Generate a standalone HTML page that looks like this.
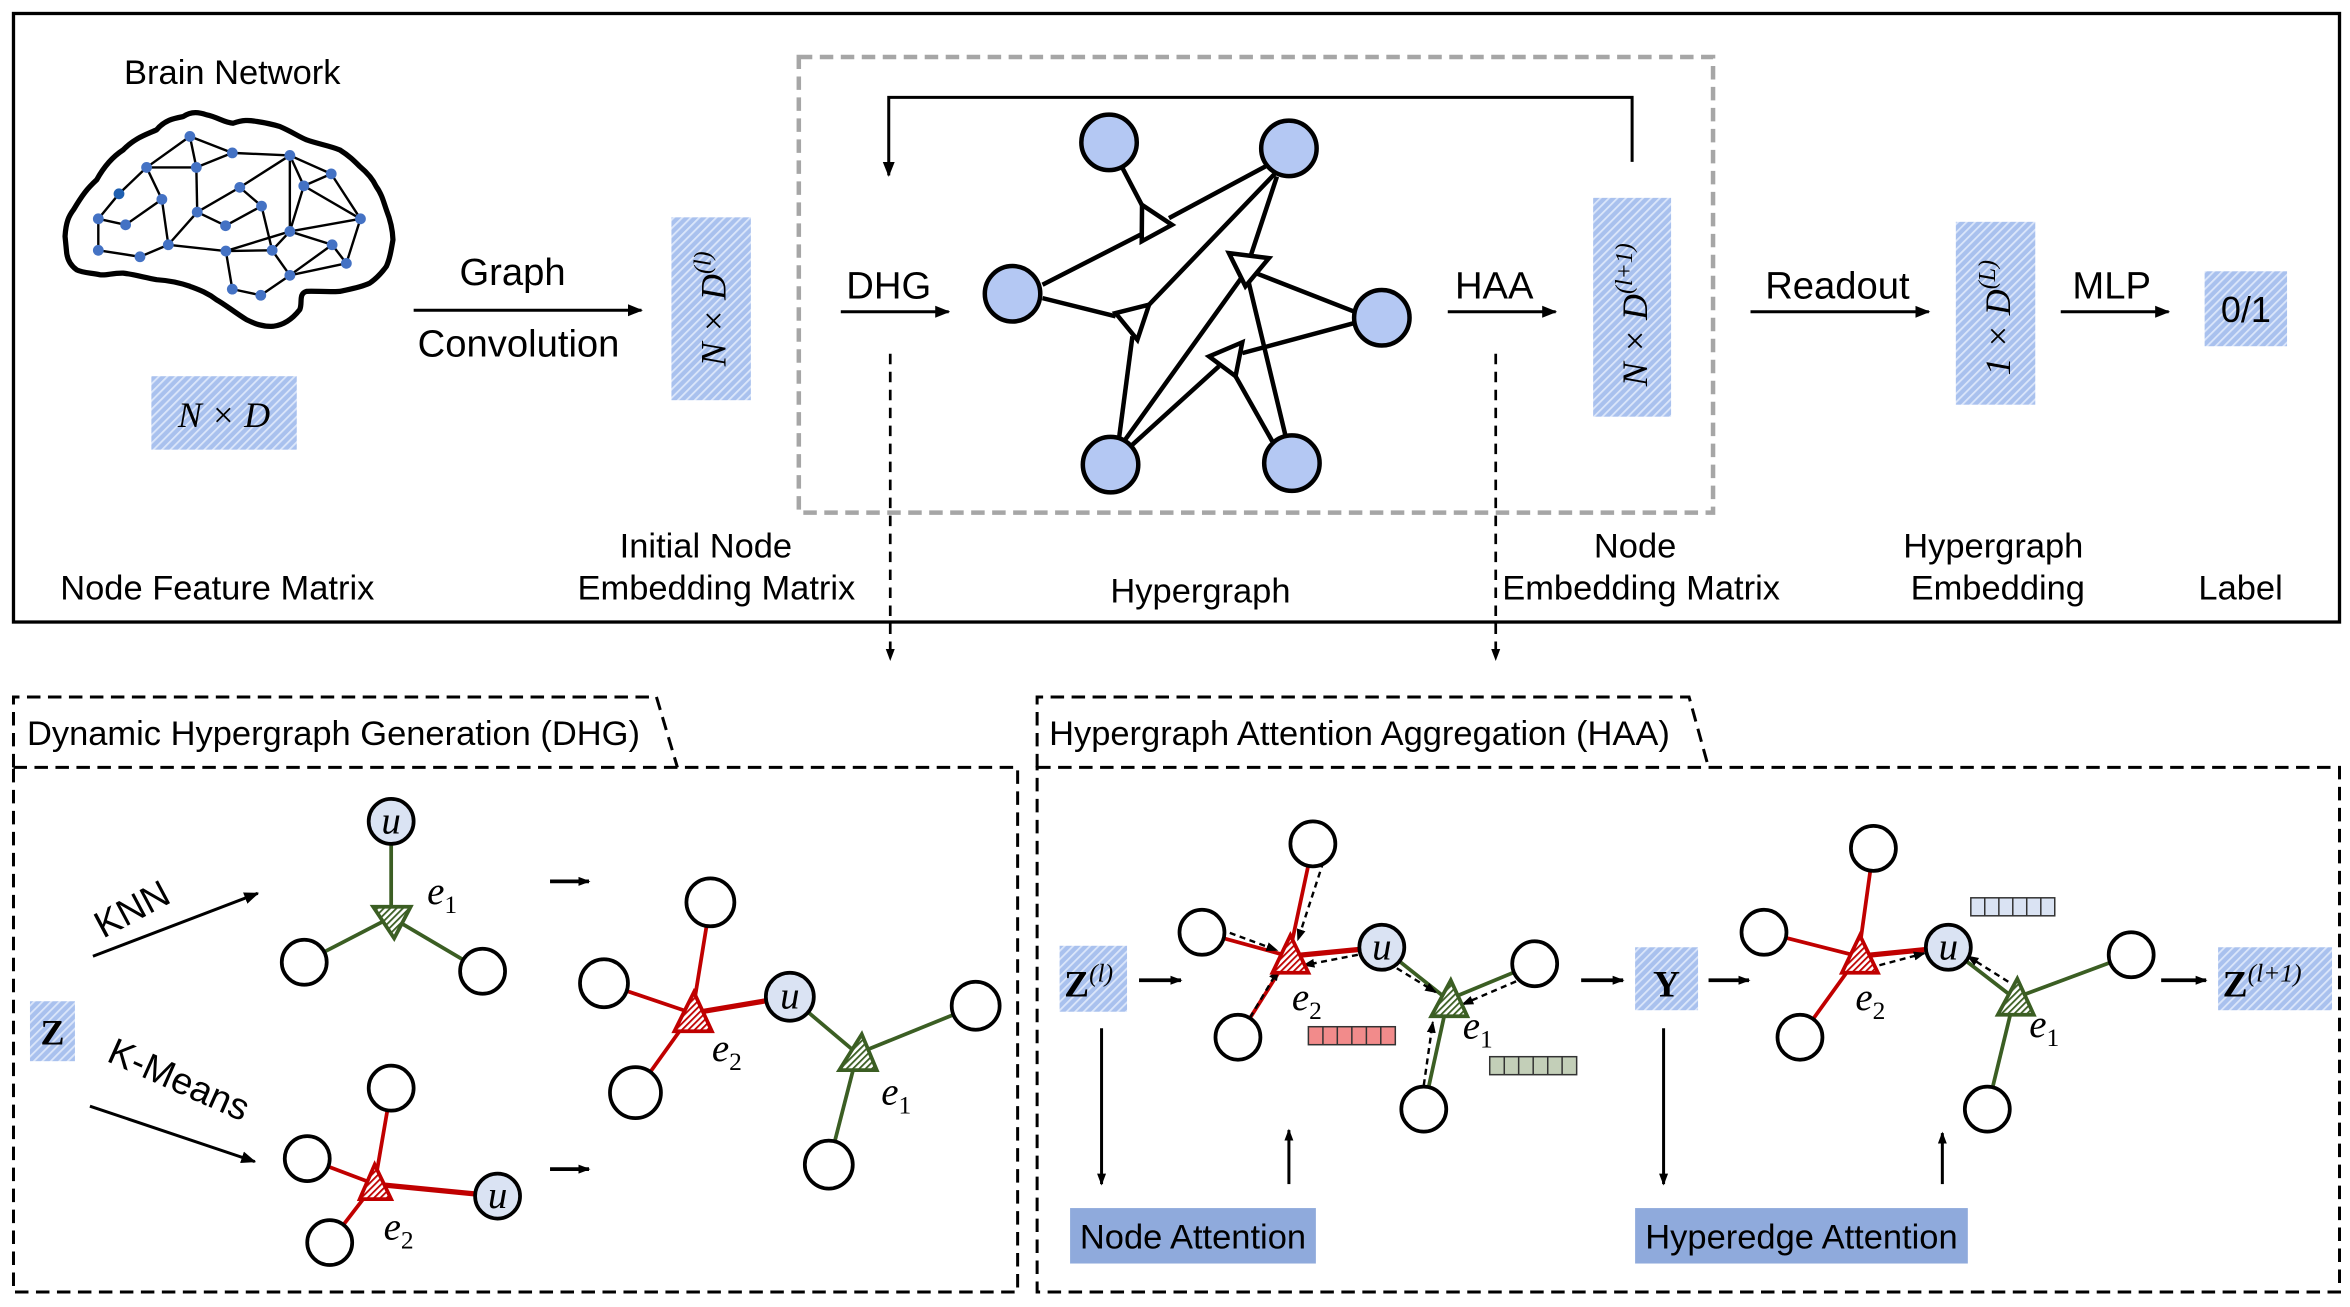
<!DOCTYPE html>
<html><head><meta charset="utf-8"><style>html,body{margin:0;padding:0;background:#fff}svg{display:block}</style></head>
<body>
<svg width="2350" height="1307" viewBox="0 0 1568 872" preserveAspectRatio="none" xmlns="http://www.w3.org/2000/svg" font-family="Liberation Sans, sans-serif">
<defs>
<pattern id="h" width="4" height="4" patternUnits="userSpaceOnUse" patternTransform="rotate(45)">
<rect width="4" height="4" fill="#a9c1ee"/><rect width="1.2" height="4" fill="#dbe6fa"/></pattern>
<pattern id="hr" width="3" height="3" patternUnits="userSpaceOnUse" patternTransform="rotate(45)">
<rect width="3" height="3" fill="#fff"/><rect width="1.2" height="3" fill="#c00000"/></pattern>
<pattern id="hg" width="3" height="3" patternUnits="userSpaceOnUse" patternTransform="rotate(45)">
<rect width="3" height="3" fill="#fff"/><rect width="1.2" height="3" fill="#3b5e23"/></pattern>
<marker id="a" markerWidth="10" markerHeight="10" refX="9" refY="5" orient="auto" markerUnits="userSpaceOnUse"><path d="M0,1 L10,5 L0,9 Z" fill="#000"/></marker>
<marker id="as" markerWidth="8" markerHeight="8" refX="7" refY="4" orient="auto" markerUnits="userSpaceOnUse"><path d="M0,1 L8,4 L0,7 Z" fill="#000"/></marker>
</defs>

<rect x="9" y="9" width="1552" height="406" fill="none" stroke="#000" stroke-width="2.2"/>
<text x="155" y="56" font-size="23" text-anchor="middle">Brain Network</text>

<path d="M43.4,157.7 C44,148 46,144 49,140 C55,130 58,126 64.5,120 C70,110 76,104 82.2,100 C90,92 97,90 104.5,86.6 C110,80 116,79 122.2,77.8 C128,74 133,75 137.8,76.6 C145,78 150,82 155.6,82.2 C162,80 166,80 171,81 C178,82 182,83 186.7,84.4 C195,88 199,91 204.5,93.3 C212,96 219,97 226.7,100 C233,104 236,107 240,111 C246,116 249,120 251,124.4 C255,130 256,135 257.8,140 C261,148 262,154 262.2,160 C261,167 260,173 257.8,177.7 C254,183 251,186 246.7,188.9 C240,192 233,193 226.7,194.4 C218,195 210,194 204.5,194.4 C199,196 202,202 200,206.6 C195,213 189,217 182.2,217.7 C175,218 170,216 164.5,213.3 C156,208 150,203 144.5,200 C138,195 132,193 126.7,191 C118,188 111,187 104.5,186.6 C96,185 89,183 82.2,182.2 C75,182 71,184 66.7,183.3 C60,182 55,182 51.1,180 C47,177 45,173 44.5,168.8 Z" fill="none" stroke="#000" stroke-width="3.5" stroke-linejoin="round"/>
<g stroke="#000" stroke-width="1.6">
<line x1="126.7" y1="91" x2="97.8" y2="111.7"/><line x1="126.7" y1="91" x2="155" y2="102"/><line x1="126.7" y1="91" x2="131" y2="111.7"/>
<line x1="131" y1="111.7" x2="155" y2="102"/><line x1="155" y1="102" x2="193.4" y2="103.7"/><line x1="97.8" y1="111.7" x2="131" y2="111.7"/>
<line x1="97.8" y1="111.7" x2="79.4" y2="129.3"/><line x1="97.8" y1="111.7" x2="108" y2="133"/><line x1="131" y1="111.7" x2="131.6" y2="141.5"/>
<line x1="193.4" y1="103.7" x2="160" y2="125"/><line x1="160" y1="125" x2="131.6" y2="141.5"/><line x1="160" y1="125" x2="174.5" y2="137.5"/>
<line x1="193.4" y1="103.7" x2="221" y2="116"/><line x1="193.4" y1="103.7" x2="202.7" y2="124"/><line x1="193.4" y1="103.7" x2="193.4" y2="154.4"/>
<line x1="202.7" y1="124" x2="221" y2="116"/><line x1="202.7" y1="124" x2="240.5" y2="146"/><line x1="221" y1="116" x2="240.5" y2="146"/>
<line x1="202.7" y1="124" x2="193.4" y2="154.4"/><line x1="79.4" y1="129.3" x2="65.6" y2="146"/><line x1="65.6" y1="146" x2="83.8" y2="150"/>
<line x1="83.8" y1="150" x2="108" y2="133"/><line x1="108" y1="133" x2="112.3" y2="163.3"/><line x1="65.6" y1="146" x2="65.6" y2="167"/>
<line x1="65.6" y1="167" x2="93.4" y2="171.3"/><line x1="93.4" y1="171.3" x2="112.3" y2="163.3"/><line x1="112.3" y1="163.3" x2="131.6" y2="141.5"/>
<line x1="112.3" y1="163.3" x2="150.7" y2="167.5"/><line x1="131.6" y1="141.5" x2="150.5" y2="150.6"/><line x1="150.5" y1="150.6" x2="174.5" y2="137.5"/>
<line x1="174.5" y1="137.5" x2="181.6" y2="167"/><line x1="150.7" y1="167.5" x2="193.4" y2="154.4"/><line x1="150.7" y1="167.5" x2="181.6" y2="167"/>
<line x1="193.4" y1="154.4" x2="181.6" y2="167"/><line x1="193.4" y1="154.4" x2="240.5" y2="146"/><line x1="193.4" y1="154.4" x2="221.6" y2="163.3"/>
<line x1="240.5" y1="146" x2="231.1" y2="175.7"/><line x1="221.6" y1="163.3" x2="231.1" y2="175.7"/><line x1="221.6" y1="163.3" x2="193.4" y2="183.7"/>
<line x1="231.1" y1="175.7" x2="193.4" y2="183.7"/><line x1="181.6" y1="167" x2="193.4" y2="183.7"/><line x1="150.7" y1="167.5" x2="155" y2="192.9"/>
<line x1="155" y1="192.9" x2="174" y2="197"/><line x1="174" y1="197" x2="193.4" y2="183.7"/>
</g>
<g fill="#4472c4">
<circle cx="126.7" cy="91" r="3.6"/><circle cx="155" cy="102" r="3.6"/><circle cx="193.4" cy="103.7" r="3.6"/><circle cx="97.8" cy="111.7" r="3.6"/>
<circle cx="131" cy="111.7" r="3.6"/><circle cx="221" cy="116" r="3.6"/><circle cx="202.7" cy="124" r="3.6"/><circle cx="79.4" cy="129.3" r="3.6" fill="#1f5fb0"/>
<circle cx="160" cy="125" r="3.6"/><circle cx="108" cy="133" r="3.6"/><circle cx="174.5" cy="137.5" r="3.6"/><circle cx="131.6" cy="141.5" r="3.6"/>
<circle cx="65.6" cy="146" r="3.6"/><circle cx="83.8" cy="150" r="3.6"/><circle cx="150.5" cy="150.6" r="3.6"/><circle cx="240.5" cy="146" r="3.6"/>
<circle cx="193.4" cy="154.4" r="3.6"/><circle cx="112.3" cy="163.3" r="3.6"/><circle cx="65.6" cy="167" r="3.6"/><circle cx="93.4" cy="171.3" r="3.6"/>
<circle cx="150.7" cy="167.5" r="3.6"/><circle cx="181.6" cy="167" r="3.6"/><circle cx="221.6" cy="163.3" r="3.6"/><circle cx="231.1" cy="175.7" r="3.6"/>
<circle cx="193.4" cy="183.7" r="3.6"/><circle cx="155" cy="192.9" r="3.6"/><circle cx="174" cy="197" r="3.6"/>
</g>

<rect x="101" y="251" width="97" height="49" fill="url(#h)"/>
<text x="149.5" y="285" font-size="24" text-anchor="middle" font-family="Liberation Serif, serif" font-style="italic">N × D</text>
<text x="145" y="400" font-size="23" text-anchor="middle">Node Feature Matrix</text>

<line x1="276" y1="207" x2="428" y2="207" stroke="#000" stroke-width="2" marker-end="url(#a)"/>
<text x="342" y="190" font-size="25.5" text-anchor="middle">Graph</text>
<text x="346" y="238" font-size="25.5" text-anchor="middle">Convolution</text>

<rect x="448" y="145" width="53" height="122" fill="url(#h)"/>
<text transform="translate(484,206) rotate(-90)" font-size="24" text-anchor="middle" font-family="Liberation Serif, serif" font-style="italic">N × D<tspan font-size="16" dy="-10">(l)</tspan></text>
<text x="471" y="372" font-size="23" text-anchor="middle">Initial Node</text>
<text x="478" y="400" font-size="23" text-anchor="middle">Embedding Matrix</text>

<rect x="533" y="38" width="610" height="304" fill="none" stroke="#a6a6a6" stroke-width="3" stroke-dasharray="9,5"/>
<polyline points="1089,108 1089,65 593,65 593,117" fill="none" stroke="#000" stroke-width="2" marker-end="url(#a)"/>
<text x="593" y="199" font-size="25.5" text-anchor="middle">DHG</text>
<line x1="561" y1="208" x2="633" y2="208" stroke="#000" stroke-width="2" marker-end="url(#a)"/>

<g stroke="#000" stroke-width="3" fill="none">
<line x1="740" y1="95" x2="762" y2="137"/><line x1="695.6" y1="190" x2="763" y2="155.5"/><line x1="780" y1="145.5" x2="844.4" y2="111"/>
<line x1="695.6" y1="198.9" x2="744.4" y2="211"/><line x1="851" y1="115.5" x2="766.7" y2="203.3"/><line x1="746.7" y1="292" x2="755.6" y2="224.4"/>
<line x1="852" y1="117.8" x2="834.4" y2="171"/><line x1="903.3" y1="207.8" x2="837.8" y2="182.2"/><line x1="857.8" y1="291" x2="833.3" y2="188.9"/>
<line x1="751" y1="293" x2="829" y2="184.4"/><line x1="903.3" y1="215.6" x2="828.9" y2="235.6"/><line x1="755.6" y1="296.7" x2="813.3" y2="244.4"/>
<line x1="848.9" y1="294.4" x2="824.4" y2="251"/>
</g>
<g stroke="#000" stroke-width="3" fill="#fff">
<polygon points="762,136.7 782,150 761.8,161"/>
<polygon points="744.4,208.9 766.7,203.3 758.9,226.7"/>
<polygon points="820,168.9 846.7,172.2 831,191"/>
<polygon points="806.7,237.8 828.9,228.4 824.4,251"/>
</g>
<g fill="#b4c8f3" stroke="#000" stroke-width="3">
<circle cx="740" cy="95" r="18.5"/><circle cx="860" cy="99" r="18.5"/><circle cx="675.6" cy="196" r="18.5"/>
<circle cx="922" cy="212" r="18.5"/><circle cx="741" cy="310" r="18.5"/><circle cx="862" cy="309" r="18.5"/>
</g>
<text x="801" y="402" font-size="23" text-anchor="middle">Hypergraph</text>

<text x="997" y="199" font-size="25.5" text-anchor="middle">HAA</text>
<line x1="966" y1="208" x2="1038" y2="208" stroke="#000" stroke-width="2" marker-end="url(#a)"/>
<rect x="1063" y="132" width="52" height="146" fill="url(#h)"/>
<text transform="translate(1099,210) rotate(-90)" font-size="24" text-anchor="middle" font-family="Liberation Serif, serif" font-style="italic">N × D<tspan font-size="16" dy="-10">(l+1)</tspan></text>
<text x="1091" y="372" font-size="23" text-anchor="middle">Node</text>
<text x="1095" y="400" font-size="23" text-anchor="middle">Embedding Matrix</text>

<text x="1226" y="199" font-size="25.5" text-anchor="middle">Readout</text>
<line x1="1168" y1="208" x2="1287" y2="208" stroke="#000" stroke-width="2" marker-end="url(#a)"/>
<rect x="1305" y="148" width="53" height="122" fill="url(#h)"/>
<text transform="translate(1341,212) rotate(-90)" font-size="24" text-anchor="middle" font-family="Liberation Serif, serif" font-style="italic">1 × D<tspan font-size="16" dy="-10">(L)</tspan></text>
<text x="1330" y="372" font-size="23" text-anchor="middle">Hypergraph</text>
<text x="1333" y="400" font-size="23" text-anchor="middle">Embedding</text>

<text x="1409" y="199" font-size="25.5" text-anchor="middle">MLP</text>
<line x1="1375" y1="208" x2="1447" y2="208" stroke="#000" stroke-width="2" marker-end="url(#a)"/>
<rect x="1471" y="181" width="55" height="50" fill="url(#h)"/>
<text x="1498.5" y="215" font-size="24" text-anchor="middle">0/1</text>
<text x="1495" y="400" font-size="23" text-anchor="middle">Label</text>

<line x1="594" y1="236" x2="594" y2="440" stroke="#000" stroke-width="1.8" stroke-dasharray="7,5" marker-end="url(#as)"/>
<line x1="998" y1="236" x2="998" y2="440" stroke="#000" stroke-width="1.8" stroke-dasharray="7,5" marker-end="url(#as)"/>

<g fill="none" stroke="#000" stroke-width="2" stroke-dasharray="9,5">
<path d="M9,512 L9,465 L438,465 L452,512"/>
<rect x="9" y="512" width="670" height="350"/>
<path d="M692,512 L692,465 L1127,465 L1140,512"/>
<rect x="692" y="512" width="869" height="350"/>
</g>
<text x="18" y="497" font-size="23">Dynamic Hypergraph Generation (DHG)</text>
<text x="700" y="497" font-size="23">Hypergraph Attention Aggregation (HAA)</text>

<rect x="20" y="668" width="30" height="40" fill="url(#h)"/>
<text x="35" y="697" font-size="24" text-anchor="middle" font-family="Liberation Serif, serif" font-weight="bold">Z</text>
<text transform="translate(92,614) rotate(-28)" font-size="25" text-anchor="middle">KNN</text>
<line x1="62" y1="638" x2="172" y2="596" stroke="#000" stroke-width="2" marker-end="url(#a)"/>
<text transform="translate(116,728) rotate(24)" font-size="25" text-anchor="middle">K-Means</text>
<line x1="60" y1="738" x2="170" y2="775" stroke="#000" stroke-width="2" marker-end="url(#a)"/>

<g stroke-width="2.5">
<line x1="261" y1="548" x2="261" y2="612" stroke="#3b5e23"/>
<line x1="261" y1="612" x2="203" y2="642" stroke="#3b5e23"/>
<line x1="261" y1="612" x2="322" y2="648" stroke="#3b5e23"/>
<line x1="261" y1="726" x2="250" y2="790" stroke="#c00000"/>
<line x1="205" y1="773" x2="250" y2="790" stroke="#c00000"/>
<line x1="220" y1="829" x2="250" y2="790" stroke="#c00000"/>
<line x1="332" y1="798" x2="250" y2="790" stroke="#c00000" stroke-width="3.5"/>
<line x1="474" y1="602" x2="462" y2="676" stroke="#c00000"/>
<line x1="403" y1="656" x2="462" y2="676" stroke="#c00000"/>
<line x1="424" y1="729" x2="462" y2="676" stroke="#c00000"/>
<line x1="527" y1="665" x2="462" y2="676" stroke="#c00000" stroke-width="3.5"/>
<line x1="527" y1="665" x2="572" y2="703" stroke="#3b5e23"/>
<line x1="651" y1="671" x2="572" y2="703" stroke="#3b5e23"/>
<line x1="553" y1="777" x2="572" y2="703" stroke="#3b5e23"/>
</g>
<g stroke-width="2.5">
<polygon points="249,605 274,605 263,626" fill="url(#hg)" stroke="#3b5e23"/>
<polygon points="250,777 240,800 261,800" fill="url(#hr)" stroke="#c00000"/>
<polygon points="463,662 450,688 475,688" fill="url(#hr)" stroke="#c00000"/>
<polygon points="575,690 560,714 585,714" fill="url(#hg)" stroke="#3b5e23"/>
</g>
<g stroke="#000" stroke-width="2.5" fill="#fff">
<circle cx="203" cy="642" r="15"/><circle cx="322" cy="648" r="15"/>
<circle cx="261" cy="726" r="15"/><circle cx="205" cy="773" r="15"/><circle cx="220" cy="829" r="15"/>
<circle cx="474" cy="602" r="16"/><circle cx="403" cy="656" r="16"/><circle cx="424" cy="729" r="17"/><circle cx="651" cy="671" r="16"/><circle cx="553" cy="777" r="16"/>
<circle cx="261" cy="548" r="15" fill="#dae3f3"/><circle cx="332" cy="798" r="15" fill="#dae3f3"/><circle cx="527" cy="665" r="16" fill="#dae3f3"/>
</g>
<g font-family="Liberation Serif, serif" font-style="italic" font-size="26" text-anchor="middle">
<text x="261" y="556">u</text><text x="332" y="806">u</text><text x="527" y="673">u</text>
<text x="295" y="603">e<tspan font-size="17" dy="6" font-style="normal">1</tspan></text>
<text x="266" y="827">e<tspan font-size="17" dy="6" font-style="normal">2</tspan></text>
<text x="485" y="708">e<tspan font-size="17" dy="6" font-style="normal">2</tspan></text>
<text x="598" y="737">e<tspan font-size="17" dy="6" font-style="normal">1</tspan></text>
</g>
<line x1="367" y1="588" x2="393" y2="588" stroke="#000" stroke-width="2.5" marker-end="url(#as)"/>
<line x1="367" y1="780" x2="393" y2="780" stroke="#000" stroke-width="2.5" marker-end="url(#as)"/>

<rect x="707" y="631" width="45" height="44" fill="url(#h)"/>
<text x="710" y="665" font-size="25" font-family="Liberation Serif, serif" font-weight="bold">Z<tspan font-size="17" font-weight="normal" font-style="italic" dy="-10">(l)</tspan></text>
<line x1="760" y1="654" x2="788" y2="654" stroke="#000" stroke-width="2.5" marker-end="url(#as)"/>

<g stroke-width="2.5">
<line x1="876" y1="563" x2="860" y2="638" stroke="#c00000"/>
<line x1="802" y1="622" x2="860" y2="638" stroke="#c00000"/>
<line x1="826" y1="692" x2="860" y2="638" stroke="#c00000"/>
<line x1="922" y1="632" x2="860" y2="638" stroke="#c00000" stroke-width="3.5"/>
<line x1="922" y1="632" x2="966" y2="667" stroke="#3b5e23"/>
<line x1="1024" y1="643" x2="966" y2="667" stroke="#3b5e23"/>
<line x1="950" y1="740" x2="966" y2="667" stroke="#3b5e23"/>
<line x1="1250" y1="566" x2="1240" y2="638" stroke="#c00000"/>
<line x1="1177" y1="622" x2="1240" y2="638" stroke="#c00000"/>
<line x1="1201" y1="692" x2="1240" y2="638" stroke="#c00000"/>
<line x1="1300" y1="632" x2="1240" y2="638" stroke="#c00000" stroke-width="3.5"/>
<line x1="1300" y1="632" x2="1344" y2="666" stroke="#3b5e23"/>
<line x1="1422" y1="637" x2="1344" y2="666" stroke="#3b5e23"/>
<line x1="1326" y1="740" x2="1344" y2="666" stroke="#3b5e23"/>
</g>
<g stroke="#000" stroke-width="1.6" stroke-dasharray="4,3">
<line x1="883" y1="575" x2="866" y2="627" marker-end="url(#as)"/>
<line x1="814" y1="620" x2="852" y2="634" marker-end="url(#as)"/>
<line x1="834" y1="679" x2="853" y2="647" marker-end="url(#as)"/>
<line x1="906" y1="637" x2="870" y2="644" marker-end="url(#as)"/>
<line x1="932" y1="646" x2="958" y2="662" marker-end="url(#as)"/>
<line x1="1018" y1="652" x2="976" y2="670" marker-end="url(#as)"/>
<line x1="950" y1="724" x2="956" y2="682" marker-end="url(#as)"/>
<line x1="1254" y1="644" x2="1284" y2="636" marker-end="url(#as)"/>
<line x1="1340" y1="655" x2="1313" y2="638" marker-end="url(#as)"/>
</g>
<g stroke-width="2.5">
<polygon points="861,624 849,649 873,649" fill="url(#hr)" stroke="#c00000"/>
<polygon points="968,654 955,678 979,678" fill="url(#hg)" stroke="#3b5e23"/>
<polygon points="1241,624 1229,649 1253,649" fill="url(#hr)" stroke="#c00000"/>
<polygon points="1346,653 1333,677 1357,677" fill="url(#hg)" stroke="#3b5e23"/>
</g>
<g stroke="#000" stroke-width="2.5" fill="#fff">
<circle cx="876" cy="563" r="15"/><circle cx="802" cy="622" r="15"/><circle cx="826" cy="692" r="15"/><circle cx="1024" cy="643" r="15"/><circle cx="950" cy="740" r="15"/>
<circle cx="1250" cy="566" r="15"/><circle cx="1177" cy="622" r="15"/><circle cx="1201" cy="692" r="15"/><circle cx="1422" cy="637" r="15"/><circle cx="1326" cy="740" r="15"/>
<circle cx="922" cy="632" r="15" fill="#dae3f3"/><circle cx="1300" cy="632" r="15" fill="#dae3f3"/>
</g>
<g font-family="Liberation Serif, serif" font-style="italic" font-size="26" text-anchor="middle">
<text x="922" y="640">u</text><text x="1300" y="640">u</text>
<text x="872" y="674">e<tspan font-size="17" dy="6" font-style="normal">2</tspan></text>
<text x="986" y="693">e<tspan font-size="17" dy="6" font-style="normal">1</tspan></text>
<text x="1248" y="674">e<tspan font-size="17" dy="6" font-style="normal">2</tspan></text>
<text x="1364" y="692">e<tspan font-size="17" dy="6" font-style="normal">1</tspan></text>
</g>
<g stroke="#333" stroke-width="1">
<rect x="873" y="685" width="58" height="12" fill="#f28b8b"/>
<line x1="882.7" y1="685" x2="882.7" y2="697"/><line x1="892.3" y1="685" x2="892.3" y2="697"/><line x1="902" y1="685" x2="902" y2="697"/><line x1="911.7" y1="685" x2="911.7" y2="697"/><line x1="921.3" y1="685" x2="921.3" y2="697"/>
<rect x="994" y="705" width="58" height="12" fill="#c3cfb8"/>
<line x1="1003.7" y1="705" x2="1003.7" y2="717"/><line x1="1013.3" y1="705" x2="1013.3" y2="717"/><line x1="1023" y1="705" x2="1023" y2="717"/><line x1="1032.7" y1="705" x2="1032.7" y2="717"/><line x1="1042.3" y1="705" x2="1042.3" y2="717"/>
<rect x="1315" y="599" width="56" height="12" fill="#dae3f3"/>
<line x1="1324.3" y1="599" x2="1324.3" y2="611"/><line x1="1333.7" y1="599" x2="1333.7" y2="611"/><line x1="1343" y1="599" x2="1343" y2="611"/><line x1="1352.3" y1="599" x2="1352.3" y2="611"/><line x1="1361.7" y1="599" x2="1361.7" y2="611"/>
</g>

<line x1="1055" y1="654" x2="1083" y2="654" stroke="#000" stroke-width="2.5" marker-end="url(#as)"/>
<rect x="1091" y="632" width="42" height="42" fill="url(#h)"/>
<text x="1112" y="665" font-size="25" text-anchor="middle" font-family="Liberation Serif, serif" font-weight="bold">Y</text>
<line x1="1140" y1="654" x2="1167" y2="654" stroke="#000" stroke-width="2.5" marker-end="url(#as)"/>
<line x1="1442" y1="654" x2="1472" y2="654" stroke="#000" stroke-width="2.5" marker-end="url(#as)"/>
<rect x="1480" y="632" width="76" height="42" fill="url(#h)"/>
<text x="1483" y="665" font-size="25" font-family="Liberation Serif, serif" font-weight="bold">Z<tspan font-size="17" font-weight="normal" font-style="italic" dy="-10">(l+1)</tspan></text>

<g stroke="#000" stroke-width="2">
<line x1="735" y1="686" x2="735" y2="790" marker-end="url(#as)"/>
<line x1="1110" y1="686" x2="1110" y2="790" marker-end="url(#as)"/>
<line x1="860" y1="790" x2="860" y2="754" marker-end="url(#as)"/>
<line x1="1296" y1="790" x2="1296" y2="756" marker-end="url(#as)"/>
</g>
<rect x="714" y="806" width="164" height="37" fill="#8faadc"/>
<text x="796" y="833" font-size="23" text-anchor="middle">Node Attention</text>
<rect x="1091" y="806" width="222" height="37" fill="#8faadc"/>
<text x="1202" y="833" font-size="23" text-anchor="middle">Hyperedge Attention</text>
</svg>
</body></html>
